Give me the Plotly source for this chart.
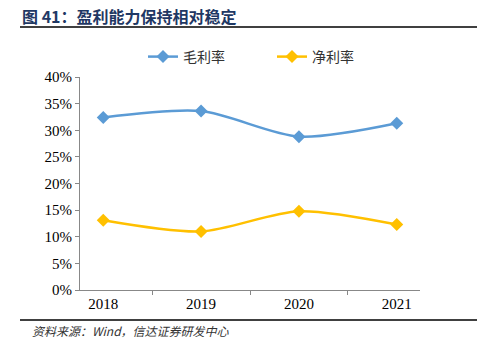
import plotly.graph_objects as go

years = ["2018", "2019", "2020", "2021"]
gross_margin = [32.4, 33.6, 28.8, 31.3]
net_margin = [13.1, 11.0, 14.8, 12.3]

W, H = 477, 350
ML, MR, MT, MB = 80, 57, 77, 60
plot_h = H - MT - MB
plot_w = W - ML - MR


def py(pixel_y):
    return (H - MB - pixel_y) / plot_h


def px(pixel_x):
    return (pixel_x - ML) / plot_w


fig = go.Figure()
fig.add_trace(go.Scatter(x=years, y=gross_margin, name="毛利率", mode="lines+markers",
                         line=dict(color="#5B9BD5", width=2.5, shape="spline", smoothing=0.8),
                         marker=dict(symbol="diamond", size=10, color="#5B9BD5")))
fig.add_trace(go.Scatter(x=years, y=net_margin, name="净利率", mode="lines+markers",
                         line=dict(color="#FFC000", width=2.5, shape="spline", smoothing=0.8),
                         marker=dict(symbol="diamond", size=10, color="#FFC000")))

fig.update_layout(
    width=W, height=H,
    margin=dict(l=ML, r=MR, t=MT, b=MB, autoexpand=False),
    paper_bgcolor="white", plot_bgcolor="white",
    font=dict(family="Liberation Serif", size=15, color="black"),
    showlegend=True,
    legend=dict(orientation="h", x=px(272), xanchor="center", y=py(57), yanchor="middle",
                font=dict(family="Noto Sans CJK SC", size=14, color="#333333"),
                entrywidth=84, entrywidthmode="pixels", bgcolor="rgba(0,0,0,0)"),
    xaxis=dict(type="category", showline=True, linecolor="#888888", linewidth=1,
               ticks="outside", tickson="boundaries", ticklen=4, tickcolor="#888888",
               showgrid=False, tickfont=dict(family="Liberation Serif", size=15)),
    yaxis=dict(range=[0, 40], dtick=5, ticksuffix="%", showline=True, linecolor="#888888",
               linewidth=1, ticks="outside", ticklen=4, tickcolor="#888888", showgrid=False,
               zeroline=False, tickfont=dict(family="Liberation Serif", size=15)),
)

fig.add_annotation(text="<b>图 41：盈利能力保持相对稳定</b>", xref="paper", yref="paper",
                   x=px(20), y=py(16), xanchor="left", yanchor="middle", showarrow=False,
                   font=dict(family="Noto Sans CJK SC", size=16, color="#1F3864"))
fig.add_annotation(text="<i>资料来源：Wind，信达证券研发中心</i>", xref="paper", yref="paper",
                   x=px(30), y=py(330), xanchor="left", yanchor="middle", showarrow=False,
                   font=dict(family="Noto Sans CJK SC", size=12, color="#333333"))
fig.add_shape(type="line", xref="paper", yref="paper", x0=px(20), x1=px(477), y0=py(27), y1=py(27),
              line=dict(color="black", width=1.5))
fig.add_shape(type="line", xref="paper", yref="paper", x0=px(20), x1=px(477), y0=py(320), y1=py(320),
              line=dict(color="black", width=1.5))

fig.write_html("out.html")
